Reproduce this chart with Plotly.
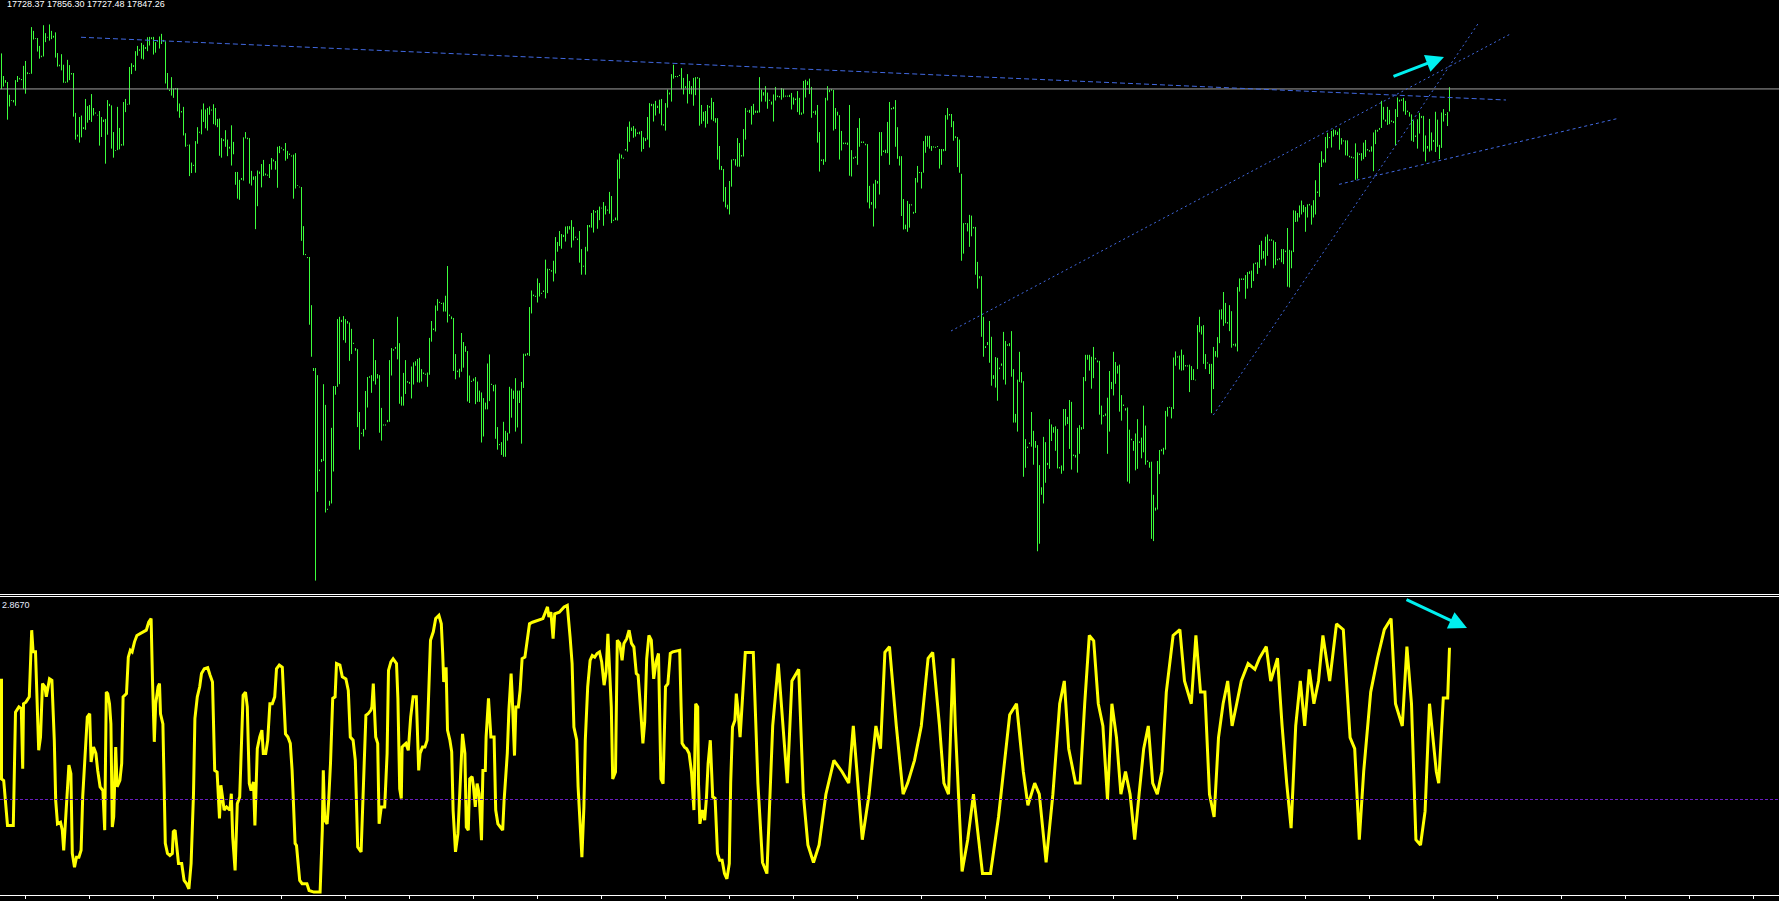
import plotly.graph_objects as go

W, H = 1779, 901

# ---------------- price bars (high / low per bar) ----------------
bar_high = [
18036,17916,17894,17884,17816,17788,17788,17894,17916,17906,
17900,17970,17996,17936,17932,18176,18156,18118,18118,18076,
18024,18186,18144,18124,18190,18156,18130,18148,18038,17976,
18032,17976,17886,18002,17974,17932,17932,17720,17604,17698,
17706,17644,17794,17756,17762,17820,17746,17722,17710,17730,
17698,17684,17688,17788,17768,17760,17618,17522,17752,17640,
17554,17778,17794,17768,17964,17984,17974,18048,18076,18058,
18092,18082,18070,18122,18124,18122,18124,18096,18104,18126,
18140,18108,18100,17932,17844,17910,17850,17852,17852,17770,
17730,17752,17612,17550,17552,17456,17444,17570,17644,17620,
17738,17770,17738,17746,17754,17738,17766,17746,17688,17690,
17586,17580,17628,17578,17540,17654,17566,17406,17406,17364,
17374,17590,17618,17588,17586,17412,17382,17384,17414,17408,
17448,17470,17398,17392,17448,17480,17472,17464,17540,17544,
17536,17528,17560,17518,17504,17494,17498,17506,17336,17328,
17326,17118,16970,16954,16954,16698,16364,16364,16326,15824,
15880,16278,16168,15616,15658,16046,16268,16268,16624,16636,
16620,16640,16624,16614,16606,16572,16498,16470,16464,16130,
16020,16040,16242,16316,16320,16326,16518,16406,16332,16326,
16152,16064,16064,16088,16406,16470,16464,16476,16636,16496,
16212,16338,16406,16294,16290,16372,16394,16400,16412,16418,
16358,16340,16334,16340,16524,16614,16574,16696,16730,16716,
16710,16712,16748,16906,16648,16638,16630,16438,16350,16360,
16550,16502,16480,16454,16324,16296,16308,16316,16292,16244,
16234,16204,16180,16388,16436,16280,16274,16276,16050,15960,
15970,16078,16030,16020,16264,16254,16244,16310,16244,16244,
16290,16440,16440,16444,16688,16776,16754,16748,16840,16816,
16764,16776,16940,16892,16890,16884,16934,17060,17034,17092,
17076,17072,17116,17118,17118,17150,17114,17062,17052,17092,
16996,16908,17008,17124,17124,
17188,17204,17198,17204,17222,
17216,17246,17226,17206,17300,17278,17152,17164,17472,17504,
17498,17482,17528,17646,17674,17642,17650,17636,17616,17620,
17624,17590,17586,17698,17772,17768,17768,17784,17758,17790,
17794,17660,17772,17844,17828,17926,17976,17916,17916,17922,
17958,17906,17862,17926,17890,17862,17906,17910,17910,17906,
17762,17726,17730,17762,17756,17800,17778,17692,17692,17544,
17438,17422,17326,17232,17358,17472,17474,17474,17586,17560,
17496,17634,17746,17732,17736,17756,17768,17732,17732,17910,
17844,17830,17862,17828,17790,17780,17818,17858,17812,17810,
17852,17848,17812,17812,17816,17826,17802,17796,17836,17800,
17722,17890,17896,17888,17902,17858,17728,17732,17762,17618,
17472,17474,17800,17862,17844,17846,17842,17746,17726,17708,
17624,17562,17562,17562,17762,17522,17484,17488,17640,17692,
17568,17568,17556,17554,17332,17246,17344,17364,17358,17618,
17618,17520,17524,17672,17778,17746,17752,17788,17644,17490,
17490,17262,17126,17252,17236,17234,17194,17374,17438,17406,
17406,17570,17598,17598,17598,17544,17542,17540,17544,17528,
17528,17528,17708,17746,17714,17714,17676,17596,17592,17578,
17396,17134,17134,17134,17178,17174,17114,17114,16928,16852,
16852,16636,16480,16502,16614,16530,16326,16422,16418,16366,
16388,16556,16508,16490,16496,16560,16358,16120,16302,16450,
16342,16294,15986,15946,15968,16130,16030,15976,15954,15848,
15730,15998,15970,15860,16092,16064,16050,16054,16040,15838,
15846,16146,16146,16104,16194,16184,15904,15902,16046,16060,
16050,16316,16434,16434,16434,16424,16476,16418,16404,16402,
16164,16114,16122,16206,16348,16290,16450,16396,16376,16382,
16220,16170,16150,16154,16036,15988,15976,16016,16092,15974,
15994,16164,16058,15872,15864,15866,15690,15622,15870,15928,
15932,15940,16136,16156,16158,
16156,16420,16452,16426,16430,
16462,16434,16380,16378,16382,16374,16358,16302,16592,16636,
16586,16592,16438,16394,16386,16386,16476,16454,16528,16674,
16676,16768,16710,16608,16698,16666,16492,16494,16794,16840,
16840,16840,16858,16874,16878,16882,16920,16924,16926,17018,
17040,16986,17062,17074,17048,17048,17042,17034,16944,16948,
16996,16996,16988,17108,16992,16988,17202,17200,17188,17228,
17254,17230,17220,17234,17236,17228,17256,17362,17302,17454,
17516,17474,17592,17614,17592,17624,17632,17628,17620,17638,
17586,17574,17574,17574,17492,17488,17484,17558,17510,17504,
17506,17562,17576,17528,17522,17542,17616,17630,17630,17640,
17784,17752,17684,17752,17736,17680,17676,17740,17802,17790,
17792,17800,17784,17732,17724,17712,17680,17600,17686,17720,
17704,17704,17600,17544,17688,17616,17576,17726,17684,17550,
17722,17740,17714,17724,17856.30,
]

bar_low = [
17846,17860,17880,17684,17754,17784,17776,17758,17884,17898,
17894,17846,17822,17926,17928,17928,18110,18114,18046,18008,
18016,18020,18096,18120,18104,18112,18120,18014,17966,17968,
17946,17880,17880,17882,17894,17924,17700,17578,17594,17562,
17590,17634,17630,17668,17682,17672,17706,17716,17706,17546,
17592,17672,17450,17604,17756,17530,17482,17518,17522,17526,
17546,17546,17724,17764,17764,17926,17964,17944,18024,18050,
18008,18004,18060,18048,18078,18112,18030,18040,18098,18062,
18086,18098,17876,17846,17836,17812,17800,17846,17728,17694,
17722,17600,17540,17546,17384,17400,17438,17402,17556,17614,
17606,17672,17638,17626,17710,17732,17660,17654,17644,17492,
17482,17570,17540,17490,17530,17440,17500,17338,17264,17258,
17364,17360,17584,17580,17344,17334,17364,17102,17224,17396,
17324,17384,17388,17386,17374,17418,17462,17418,17322,17506,
17530,17520,17466,17476,17496,17488,17264,17318,17332,17324,
17040,16964,16964,16948,16594,16424,16348,15234,15706,15816,
15864,15870,15596,15610,15632,15644,15814,16222,16264,16278,
16608,16512,16498,16600,16402,16438,16492,16456,16050,15930,
16014,16000,16036,16154,16312,16232,16294,16276,16308,16020,
15978,16058,16058,16076,16078,16324,16456,16466,16410,16174,
16164,16164,16226,16286,16280,16202,16276,16376,16288,16286,
16292,16332,16328,16264,16328,16504,16566,16558,16668,16710,
16704,16664,16664,16606,16640,16624,16348,16304,16342,16314,
16344,16366,16450,16186,16178,16290,16294,16172,16184,16184,
15968,16000,16144,16144,16188,16274,16240,15988,15930,15954,
15902,15892,15892,15978,16016,16100,16200,16026,16048,16178,
15962,16258,16428,16432,16428,16654,16746,16742,16712,16744,
16758,16768,16734,16762,16884,16876,16824,16866,16982,17012,
16998,17060,17036,17078,17100,17004,17042,17056,17044,16924,
16860,16902,16860,16984,17112,
17110,17084,17190,17104,17150,
17212,17120,17180,17200,17184,17134,17146,17150,17148,17370,
17478,17476,17520,17514,17566,17624,17588,17594,17608,17606,
17514,17528,17570,17578,17536,17756,17674,17706,17746,17716,
17654,17652,17626,17748,17818,17780,17902,17910,17910,17916,
17846,17818,17852,17770,17820,17818,17758,17814,17902,17652,
17662,17676,17642,17662,17748,17684,17676,17668,17472,17418,
17416,17248,17218,17208,17180,17328,17468,17440,17434,17434,
17488,17488,17578,17726,17720,17658,17710,17720,17720,17722,
17780,17812,17780,17742,17784,17764,17674,17786,17804,17802,
17790,17802,17806,17806,17804,17738,17764,17788,17724,17710,
17710,17716,17802,17868,17820,17694,17720,17710,17562,17408,
17464,17444,17460,17786,17830,17838,17626,17634,17706,17472,
17520,17554,17554,17550,17386,17382,17476,17480,17444,17540,
17560,17560,17548,17244,17212,17232,17116,17212,17344,17286,
17492,17512,17506,17506,17444,17738,17740,17540,17476,17440,
17172,17100,17102,17088,17110,17228,17184,17188,17350,17400,
17318,17402,17508,17540,17530,17518,17536,17534,17538,17424,
17444,17516,17518,17684,17706,17644,17572,17586,17432,17402,
16934,16972,17128,17090,17008,17064,17106,16860,16786,16840,
16530,16424,16470,16486,16392,16270,16306,16260,16190,16358,
16376,16302,16276,16482,16480,16318,16074,16074,16026,16290,
16286,15786,15834,15938,15960,15946,15850,15940,15390,15430,
15690,15644,15754,15848,15828,15976,16020,15924,15830,15830,
15802,15818,16058,16066,15934,15824,15896,15888,15808,15908,
16036,16040,16294,16408,16350,16254,16310,16410,16394,16116,
16064,16106,16110,15908,16026,16252,16218,16280,16334,16132,
16084,16162,16138,15760,15750,15980,15924,15820,15828,15966,
15884,15916,15850,15864,15834,15456,15444,15606,15612,15800,
15922,15904,15930,16106,16152,
16096,16146,16376,16420,16356,
16350,16352,16372,16372,16236,16300,16300,16298,16358,16554,
16542,16386,16358,16388,16332,16124,16252,16424,16420,16496,
16622,16588,16602,16600,16560,16472,16484,16478,16452,16770,
16832,16832,16732,16786,16864,16790,16826,16916,16864,16896,
16940,16946,16908,16960,17040,17040,16894,16912,16936,16940,
16926,16916,16980,16796,16792,16894,16980,17140,17142,17164,
17180,17192,17088,17164,17228,17126,17164,17180,17294,17274,
17432,17456,17456,17532,17586,17536,17594,17604,17602,17524,
17552,17568,17494,17492,17484,17480,17478,17364,17370,17496,
17466,17474,17486,17520,17514,17514,17410,17554,17620,17630,
17640,17684,17674,17656,17660,17672,17666,17548,17698,17780,
17784,17728,17710,17724,17700,17572,17566,17592,17530,17610,
17692,17514,17462,17530,17514,17520,17566,17512,17540,17474,
17534,17674,17708,17650,17727.48,
]

last_ohlc = [17728.37, 17856.30, 17727.48, 17847.26]

# ---------------- oscillator (bar index, value) ----------------
osc_bar = [
0,0,1.1,2.1,3.0,5.9,6.3,7.0,8.7,9.9,10.6,11.0,12.2,13.9,15.1,15.8,17.0,17.7,18.6,19.5,
20.5,21.7,22.4,23.3,24.0,25.2,26.4,27.1,28.0,29.5,30.4,31.1,32.3,33.0,33.7,34.7,35.4,36.5,37.5,38.7,
39.8,40.6,41.7,42.9,44.1,44.8,46.0,47.2,48.1,49.3,50.7,51.6,52.4,53.1,54.0,54.7,55.4,56.1,57.1,57.8,
59.2,60.1,60.8,62.5,63.4,64.4,65.3,66.5,67.7,69.3,72.4,73.6,74.8,75.5,76.4,77.1,78.3,79.0,79.5,80.7,
81.4,81.9,83.0,84.2,85.4,85.9,86.8,87.8,88.5,90.1,91.3,92.5,93.7,94.8,96.0,96.7,97.9,99.1,100.0,101.4,
103.1,104.3,105.5,106.6,107.8,109.0,109.7,110.6,111.3,112.5,114.2,114.9,115.6,116.8,117.9,119.1,120.1,120.8,122.0,122.9,
123.9,124.8,126.0,126.7,127.9,129.1,130.2,130.9,132.1,133.1,134.2,135.4,136.6,137.5,138.9,140.4,141.1,142.0,143.2,144.4,
145.3,146.0,146.8,147.5,148.2,149.1,150.3,152.7,153.8,156.2,159.3,160.4,160.9,161.6,162.8,163.5,164.5,165.6,166.8,167.5,
169.2,170.4,172.2,173.4,174.4,175.8,176.9,178.1,179.8,180.5,181.4,182.2,183.3,184.7,185.2,185.9,187.1,188.1,188.8,189.9,
191.6,192.8,193.5,194.7,195.8,197.5,198.2,199.1,199.9,200.3,201.0,202.2,203.4,204.6,205.8,207.4,208.6,209.3,210.5,211.7,
212.8,213.5,214.5,215.9,217.1,218.7,219.9,220.6,221.1,222.3,223.0,224.2,225.1,225.8,227.0,228.2,229.4,230.5,231.7,232.4,
233.4,234.1,235.3,236.0,236.9,237.8,238.8,240.0,240.7,241.9,242.3,243.5,244.7,246.3,247.1,248.2,249.4,250.6,251.3,252.2,
252.9,253.7,254.8,255.3,256.5,257.2,258.4,259.3,260.3,261.7,262.9,264.0,265.5,268.3,270.7,273.0,273.7,274.7,275.8,276.6,
278.9,281.3,282.9,284.3,285.3,286.2,287.6,288.3,289.3,290.2,291.2,291.9,293.1,294.3,295.4,296.6,297.8,299.0,300.1,301.3,
302.3,303.2,304.2,304.9,305.6,307.0,307.9,309.1,310.3,311.2,312.6,313.8,315.0,316.2,317.4,318.3,319.7,320.7,321.6,322.6,
323.7,324.9,326.1,327.3,328.5,329.7,330.8,332.0,333.2,334.4,335.6,339.1,339.8,340.3,341.5,342.6,343.8,345.0,346.2,347.1,
348.1,348.5,349.2,350.4,351.6,352.5,353.3,354.4,355.6,356.8,358.0,359.1,360.3,361.5,362.7,363.9,364.6,365.5,366.7,367.4,
368.1,369.3,
371.9,375.9,378.2,380.5,382.7,385.6,388.4,390.7,392.9,395.2,398.6,400.9,403.2,406.0,408.8,412.2,416.2,420.2,423.6,425.9,
430.4,433.8,437.2,439.5,441.7,444.0,447.4,450.8,453.1,456.5,459.9,463.3,465.6,469.0,471.2,473.5,475.8,
476.9,480.3,483.1,486.0,490.5,494.5,498.5,504.1,
507.5,510.9,513.2,516.6,518.9,522.3,525.7,529.1,531.4,533.6,537.0,539.3,541.6,543.9,
546.1,548.4,550.7,553.0,555.2,557.5,559.7,562.0,564.3,566.6,568.8,571.1,573.4,575.6,577.9,580.2,582.4,585.8,589.2,591.5,
594.9,597.2,599.5,601.7,604.0,606.3,608.5,610.8,613.1,615.3,617.6,619.9,623.3,626.7,629.0,632.4,634.6,638.0,640.3,642.6,
644.8,647.1,649.4,651.6,653.9,656.2,658.5,660.7,664.1,667.5,670.9,674.3,676.6,678.9,681.1,684.6,688.0,691.4,694.8,697.0,
700.4,702.7,705.0,707.2,709.5,711.8,714.0,717.4,718.6,720.9,723.1,724,
]
osc_val = [
2.28,0.39,0.36,-0.02,-0.49,-0.49,0.55,1.65,1.75,1.72,0.58,1.81,1.84,1.94,3.20,2.79,2.79,1.94,0.93,1.18,
2.19,2.13,1.94,2.13,2.28,2.25,1.12,-0.02,-0.46,-0.43,-0.58,-0.96,-0.27,0.05,0.65,0.49,-1.02,-1.28,-1.09,-1.09,
-0.96,0.05,0.87,1.56,1.62,0.71,0.99,0.87,0.55,0.24,0.17,-0.58,2.03,2.00,1.81,1.43,-0.52,-0.33,0.99,0.24,
0.36,0.68,1.94,2.00,2.69,2.82,2.79,2.98,3.10,3.13,3.20,3.35,3.42,2.25,1.09,1.81,2.13,2.19,1.62,1.43,
0.36,-0.83,-1.02,-1.06,-1.02,-0.61,-0.58,-0.96,-1.21,-1.21,-1.53,-1.59,-1.69,-1.21,0.11,1.53,1.94,2.13,2.38,2.47,
2.49,2.35,2.22,0.55,0.52,-0.36,0.27,0.02,-0.20,-0.14,-0.20,0.11,-0.71,-1.34,-0.08,0.05,1.06,1.97,2.03,1.75,
0.30,0.17,0.33,-0.49,0.96,1.18,1.31,0.87,0.87,1.12,1.81,1.81,1.94,2.47,2.54,2.50,1.94,1.24,1.18,1.06,
0.55,-0.02,-0.83,-0.87,-1.15,-1.53,-1.59,-1.59,-1.72,-1.75,-1.75,-0.58,0.55,-0.39,-0.46,-0.08,0.68,1.91,1.94,2.57,
2.54,2.32,2.28,2.06,1.18,1.12,0.74,-0.90,-0.99,-0.33,0.87,1.59,1.62,1.69,1.75,2.19,1.18,1.06,-0.46,-0.14,
-0.14,0.87,2.44,2.60,2.66,2.57,1.91,0.20,0.02,0.99,1.02,1.06,0.93,1.56,1.94,1.94,0.55,0.87,0.99,0.99,
1.12,2.09,3.01,3.17,3.42,3.48,3.32,2.76,2.22,2.50,1.31,1.12,0.90,-0.20,-0.99,-0.65,0.52,1.24,0.87,-0.52,
-0.58,0.39,0.43,0.24,-0.14,0.30,0.11,-0.77,0.55,0.55,1.18,1.91,1.18,1.18,-0.20,-0.46,-0.52,-0.58,-0.02,0.55,
0.87,1.69,2.38,2.00,0.83,1.75,1.75,2.06,2.66,2.69,3.01,3.32,3.35,3.39,3.42,3.64,3.45,3.54,3.04,3.51,
3.54,3.64,3.67,3.07,2.57,1.37,1.12,0.24,-0.52,-1.09,-0.14,1.12,2.13,2.63,2.72,2.69,2.76,2.79,2.60,2.16,
2.41,3.13,2.32,1.75,0.39,0.52,3.01,2.95,2.63,2.95,3.04,3.20,2.95,2.88,2.38,2.35,1.62,1.06,1.46,2.66,
3.10,3.01,2.28,2.60,2.76,0.39,0.30,2.13,2.19,2.76,2.79,2.82,1.75,1.06,0.99,0.96,0.87,0.52,-0.20,1.81,
1.75,0.30,-0.46,-0.20,-0.39,0.05,0.68,1.12,0.05,0.02,-1.02,-1.15,-1.15,-1.40,-1.50,-1.21,0.33,1.37,1.50,2.00,
1.75,1.18,
2.78,2.78,0.31,-1.19,-1.40,1.39,2.57,1.39,0.31,2.24,2.46,0.10,-0.86,-1.19,-0.86,0.10,0.74,0.53,0.31,1.39,
-0.76,0.10,1.39,0.96,2.78,2.89,1.39,0.10,0.31,0.74,1.39,2.67,2.78,1.39,0.31,0.10,2.67,
1.39,-1.36,-0.76,0.10,-1.40,-1.40,-0.33,1.60,
1.81,0.53,-0.11,0.31,0.10,-1.19,0.10,1.81,2.24,0.96,0.31,0.31,1.81,3.10,
3.00,1.81,1.39,-0.01,1.81,1.17,0.10,0.53,0.10,-0.76,0.10,0.96,1.39,0.31,0.10,0.53,2.03,3.10,3.21,2.24,
1.81,3.10,2.03,2.03,0.10,-0.33,1.17,1.81,2.24,1.39,1.81,2.24,2.57,2.46,2.67,2.89,2.24,2.67,1.39,0.31,
-0.54,1.39,2.24,1.39,2.46,1.81,2.24,3.10,2.24,3.32,3.21,1.17,0.96,-0.76,0.53,2.03,2.67,3.21,3.42,1.81,
1.39,2.89,1.81,-0.76,-0.86,-0.22,1.81,0.53,0.31,1.92,1.92,2.867,
]
osc_level = 0.0

# ---------------- trend lines (bar index, price) ----------------
trend_lines = [
    ((39.75, 18122.0), (752.25, 17788.5), "5px,3px"),
    ((474.75, 16560.7), (755.1, 18143.0), "2px,3px"),
    ((605.9, 16114.0), (738.4, 18196.0), "2px,3px"),
    ((668.75, 17340.0), (808.4, 17691.0), "3px,3px"),
]

osc_ticks = [12 + 32 * n for n in range(28)]

GREEN = "#3cff3c"
YELLOW = "#ffff00"
BLUE = "#4169e1"
CYAN = "#00f0f0"

# price bars as vertical high-low segments
bx, by = [], []
for i, (h, l) in enumerate(zip(bar_high, bar_low)):
    bx += [i, i, None]
    by += [l, h, None]

fig = go.Figure()
fig.add_trace(go.Scatter(x=bx, y=by, mode="lines", line=dict(color=GREEN, width=1),
                         hoverinfo="skip", xaxis="x", yaxis="y"))
fig.add_trace(go.Scatter(x=osc_bar, y=osc_val, mode="lines", line=dict(color=YELLOW, width=3),
                         hoverinfo="skip", xaxis="x2", yaxis="y2"))

xr = [-0.75, 888.75]
main_bottom = 1 - 594 / H
osc_top = 1 - 597 / H
osc_bottom = 1 - 894.5 / H

shapes = []
# bid line
shapes.append(dict(type="line", xref="paper", x0=0, x1=1, yref="y", y0=last_ohlc[3], y1=last_ohlc[3],
                   line=dict(color="#a0a0a0", width=1)))
for (x0, y0), (x1, y1), dash in trend_lines:
    shapes.append(dict(type="line", xref="x", yref="y", x0=x0, y0=y0, x1=x1, y1=y1,
                       line=dict(color=BLUE, width=1, dash=dash)))
# panel separators
for yy in (594.5, 596.5):
    shapes.append(dict(type="line", xref="paper", yref="paper", x0=0, x1=1, y0=1 - yy / H, y1=1 - yy / H,
                       line=dict(color="#ffffff", width=1)))
# oscillator level
shapes.append(dict(type="line", xref="paper", x0=0, x1=1, yref="y2", y0=osc_level, y1=osc_level,
                   line=dict(color="#6a1cc0", width=1, dash="3px,2px")))

annotations = [
    dict(text=" ".join(f"{v:.2f}" for v in last_ohlc), xref="paper", yref="paper",
         x=5 / W, y=1, xanchor="left", yanchor="top", showarrow=False,
         font=dict(family="Liberation Sans", size=9, color="#ffffff"), yshift=3),
    dict(text=f"{osc_val[-1]:.4f}", xref="paper", yref="paper",
         x=0, y=1 - 598 / H, xanchor="left", yanchor="top", showarrow=False,
         font=dict(family="Liberation Sans", size=9, color="#e6ecff")),
    dict(text="", xref="paper", yref="paper", x=1444 / W, y=1 - 57 / H, ax=-52, ay=20,
         showarrow=True, arrowhead=2, arrowsize=1.2, arrowwidth=3, arrowcolor=CYAN),
    dict(text="", xref="paper", yref="paper", x=1467 / W, y=1 - 628 / H, ax=-62, ay=-29,
         showarrow=True, arrowhead=2, arrowsize=1.2, arrowwidth=3, arrowcolor=CYAN),
]

fig.update_layout(
    width=W, height=H,
    margin=dict(l=0, r=0, t=0, b=0, pad=0),
    paper_bgcolor="#000000", plot_bgcolor="#000000",
    showlegend=False, hovermode=False,
    xaxis=dict(domain=[0, 1], range=xr, visible=False, anchor="y"),
    yaxis=dict(domain=[main_bottom, 1], range=[15162.8, 18320], visible=False, anchor="x"),
    xaxis2=dict(domain=[0, 1], range=xr, anchor="y2", showline=True, linecolor="#ffffff", linewidth=1,
                ticks="outside", ticklen=3, tickwidth=1, tickcolor="#ffffff", tickvals=osc_ticks,
                showticklabels=False, showgrid=False, zeroline=False),
    yaxis2=dict(domain=[osc_bottom, osc_top], range=[-1.7955, 3.827], visible=False, anchor="x2"),
    shapes=shapes, annotations=annotations,
)

fig.write_html(
    "out.html",
    config={"displayModeBar": False},
    post_script="document.body.style.margin='0';document.body.style.padding='0';"
                "document.body.style.background='#000';document.body.style.overflow='hidden';",
)
